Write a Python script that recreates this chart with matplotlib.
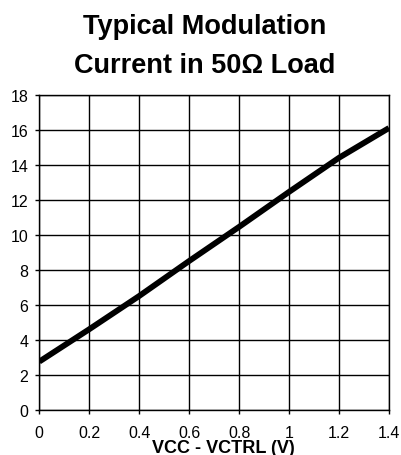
import matplotlib
matplotlib.use("Agg")
import matplotlib.pyplot as plt

# values
vctrl = [0.0, 0.2, 0.4, 0.6, 0.8, 1.0, 1.2, 1.4]
current = [2.75, 4.6, 6.5, 8.5, 10.45, 12.45, 14.4, 16.1]

x_ticks = [0, 0.2, 0.4, 0.6, 0.8, 1.0, 1.2, 1.4]
x_labels = ["0", "0.2", "0.4", "0.6", "0.8", "1", "1.2", "1.4"]
y_ticks = [0, 2, 4, 6, 8, 10, 12, 14, 16, 18]

plt.rcParams["font.family"] = ["Liberation Sans", "DejaVu Sans"]

fig = plt.figure(figsize=(4.01, 4.56), dpi=100)
ax = fig.add_axes([0.098, 0.0993, 0.872, 0.6907])

ax.plot(vctrl, current, color="black", linewidth=4.2, solid_capstyle="butt", clip_on=True)

ax.set_xlim(0, 1.4)
ax.set_ylim(0, 18)
ax.set_xticks(x_ticks)
ax.set_xticklabels(x_labels)
ax.set_yticks(y_ticks)
ax.grid(True, color="black", linewidth=1.0)
ax.set_axisbelow(True)
for s in ax.spines.values():
    s.set_color("black")
    s.set_linewidth(1.0)
ax.tick_params(axis="both", direction="out", length=3, width=1, labelsize=11.5, color="black")
ax.tick_params(axis="x", pad=8)
ax.tick_params(axis="y", pad=5)

fig.text(0.511, 1 - 34 / 456, "Typical Modulation", ha="center", va="baseline",
         fontsize=19.5, fontweight="bold")
fig.text(0.511, 1 - 73 / 456, "Current in 50Ω Load", ha="center", va="baseline",
         fontsize=19.5, fontweight="bold")
fig.text(223 / 401, 1 - 453 / 456, "VCC - VCTRL (V)", ha="center", va="baseline",
         fontsize=13, fontweight="bold")

fig.savefig("out.png", dpi=100)
